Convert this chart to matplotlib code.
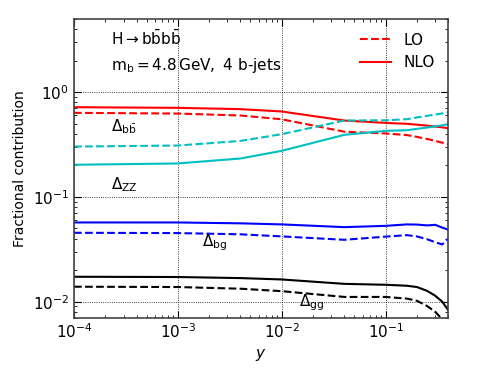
import numpy as np
import matplotlib
matplotlib.use('Agg')
import matplotlib.pyplot as plt
from matplotlib.lines import Line2D

# y values (jet resolution) where the curves were read
y_cut = [1e-4, 1e-3, 4e-3, 1e-2, 4e-2, 1e-1, 0.16, 0.2, 0.25, 0.30, 0.35, 0.40]

# fractional contributions, LO (dashed) and NLO (solid)
bb_lo = [0.636, 0.626, 0.600, 0.552, 0.420, 0.404, 0.390, 0.375, 0.358, 0.343, 0.330, 0.317]
bb_nlo = [0.720, 0.710, 0.690, 0.655, 0.537, 0.510, 0.500, 0.490, 0.480, 0.470, 0.462, 0.454]
zz_lo = [0.303, 0.310, 0.343, 0.398, 0.537, 0.540, 0.553, 0.575, 0.595, 0.612, 0.628, 0.644]
zz_nlo = [0.203, 0.209, 0.233, 0.276, 0.392, 0.428, 0.434, 0.447, 0.460, 0.472, 0.484, 0.495]
bg_lo = [0.0455, 0.0452, 0.0440, 0.0420, 0.0390, 0.0418, 0.0432, 0.0420, 0.0395, 0.0370, 0.0352, 0.0400]
bg_nlo = [0.0571, 0.0571, 0.0560, 0.0547, 0.0515, 0.0530, 0.0547, 0.0545, 0.0535, 0.0542, 0.0510, 0.0487]
gg_lo = [0.0139, 0.0138, 0.0133, 0.0126, 0.0111, 0.0111, 0.0107, 0.0102, 0.0091, 0.0080, 0.0068, 0.0057]
gg_nlo = [0.0173, 0.0172, 0.0168, 0.0163, 0.0148, 0.0145, 0.0142, 0.0138, 0.0127, 0.0114, 0.0100, 0.0083]

fig = plt.figure(figsize=(4.98, 3.74), dpi=100)
ax = fig.add_axes([0.1486, 0.15, 0.7514, 0.799])

lw = 1.5
ax.plot(y_cut, bb_lo, color='red', ls='--', lw=lw)
ax.plot(y_cut, bb_nlo, color='red', ls='-', lw=lw)
ax.plot(y_cut, zz_lo, color='c', ls='--', lw=lw)
ax.plot(y_cut, zz_nlo, color='c', ls='-', lw=lw)
ax.plot(y_cut, bg_lo, color='blue', ls='--', lw=lw)
ax.plot(y_cut, bg_nlo, color='blue', ls='-', lw=lw)
ax.plot(y_cut, gg_lo, color='black', ls='--', lw=lw)
ax.plot(y_cut, gg_nlo, color='black', ls='-', lw=lw)

ax.set_xscale('log')
ax.set_yscale('log')
ax.set_xlim(1e-4, 0.4)
ax.set_ylim(0.007, 5.0)

ax.grid(True, which='major', color='black', ls=':', lw=0.6)
ax.tick_params(which='both', direction='in', top=True, right=True, labelsize=11)
ax.tick_params(which='major', length=5)
ax.tick_params(which='minor', length=2.5)
for s in ax.spines.values():
    s.set_color('#444444')
    s.set_linewidth(1.2)

ax.set_xlabel(r'$y$', fontsize=11)
ax.set_ylabel('Fractional contribution', fontsize=10)

ax.text(0.10, 0.936, r'$\mathrm{H \rightarrow b\bar{b}b\bar{b}}$', transform=ax.transAxes,
        fontsize=11, va='center')
ax.text(0.10, 0.846, r'$\mathrm{m_b = 4.8\,GeV,\ 4\ b\text{-}jets}$', transform=ax.transAxes,
        fontsize=11, va='center')
ax.text(0.10, 0.64, r'$\Delta_{\mathrm{b\bar{b}}}$', transform=ax.transAxes, fontsize=11, va='center')
ax.text(0.10, 0.445, r'$\Delta_{\mathrm{ZZ}}$', transform=ax.transAxes, fontsize=11, va='center')
ax.text(0.342, 0.25, r'$\Delta_{\mathrm{bg}}$', transform=ax.transAxes, fontsize=11, va='center')
ax.text(0.60, 0.05, r'$\Delta_{\mathrm{gg}}$', transform=ax.transAxes, fontsize=11, va='center')

handles = [Line2D([], [], color='red', ls='--', lw=lw),
           Line2D([], [], color='red', ls='-', lw=lw)]
ax.legend(handles, ['LO', 'NLO'], loc='upper right', frameon=False, fontsize=11)

fig.savefig('out.png', dpi=100)
